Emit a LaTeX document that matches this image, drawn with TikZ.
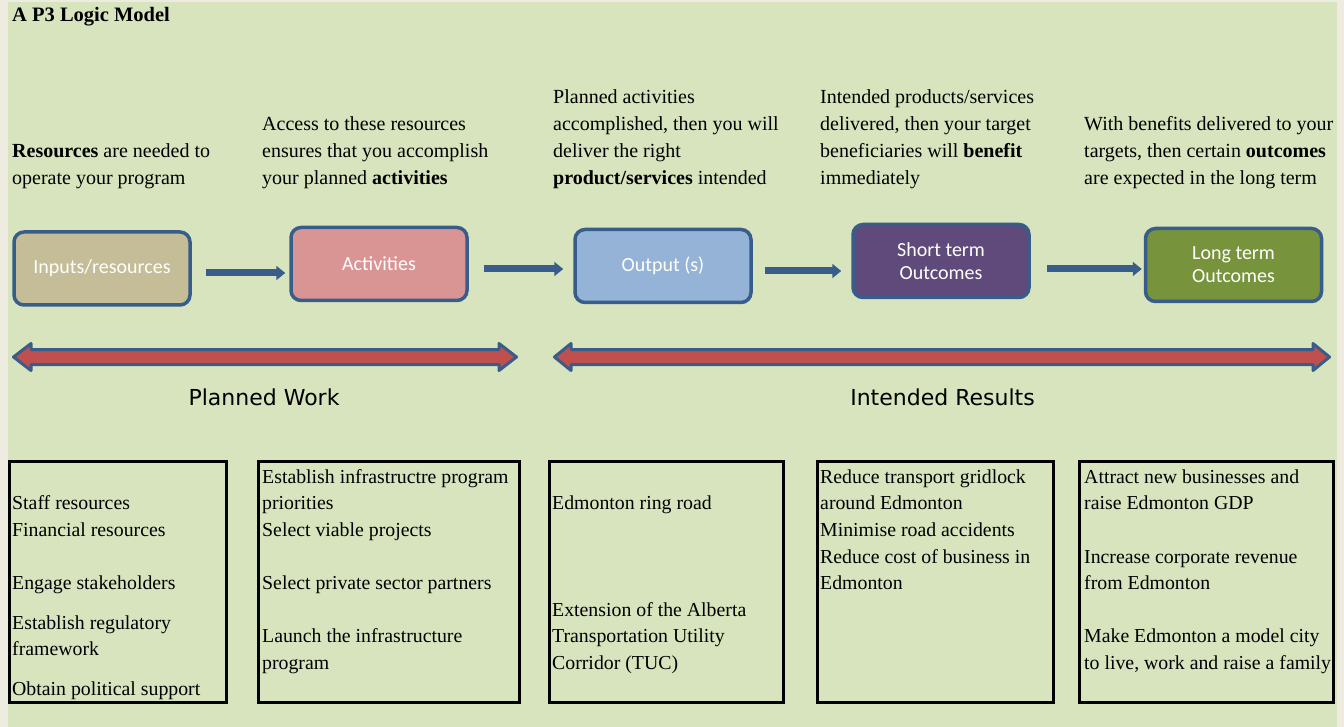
\documentclass[tikz,border=0pt]{standalone}
\usepackage{fontspec}
\setmainfont{Liberation Serif}
\newfontfamily\calib{Carlito}
\newfontfamily\dvs{DejaVu Sans}
\usetikzlibrary{arrows.meta}
\definecolor{bgg}{HTML}{D7E4BD}
\definecolor{marg}{HTML}{EEECE1}
\definecolor{bord}{HTML}{385D8A}
\definecolor{dred}{HTML}{C0504D}
\definecolor{cin}{HTML}{C4BD97}
\definecolor{cact}{HTML}{D99594}
\definecolor{cout}{HTML}{95B3D7}
\definecolor{cst}{HTML}{604A7B}
\definecolor{clt}{HTML}{77933C}
\newcommand\tline[5]{\node[#1,anchor=base west] (#2) at (#3,#4) {#5};}
\begin{document}
\begin{tikzpicture}[x=1pt,y=-1pt,
  rbox/.style={draw=bord,line width=3.5pt,rounded corners=10pt,minimum width=176pt,minimum height=73pt,
    text=white,align=center,font=\calib\fontsize{20}{23}\selectfont,inner sep=0pt},
  conn/.style={draw=bord,line width=7pt,-{Triangle[length=9pt,width=14pt]}},
  dbar/.style={draw=bord,fill=dred,line width=3pt,line join=round},
  blk/.style={draw=black,line width=3pt,inner sep=0pt},
  tt/.style={inner sep=0pt,font=\fontsize{20}{24}\selectfont},
  bt/.style={inner sep=0pt,font=\fontsize{19.8}{24}\selectfont},
  lab/.style={inner sep=0pt,anchor=base}]
\useasboundingbox (0,0) rectangle (1344,727);
\fill[marg] (0,0) rectangle (1344,727);
\fill[bgg] (8,2) rectangle (1337,727);

% title
\node[tt,anchor=base west,font=\bfseries\fontsize{20.5}{24}\selectfont] (title) at (12,22) {A P3 Logic Model};

% top texts
\tline{tt}{c1a}{12}{158}{\textbf{Resources} are needed to}
\tline{tt}{c1b}{12}{185}{operate your program}
\tline{tt}{c2a}{262}{131}{Access to these resources}
\tline{tt}{c2b}{262}{158}{ensures that you accomplish}
\tline{tt}{c2c}{262}{185}{your planned \textbf{activities}}
\tline{tt}{c3a}{553}{104}{Planned activities}
\tline{tt}{c3b}{553}{131}{accomplished, then you will}
\tline{tt}{c3c}{553}{158}{deliver the right}
\tline{tt}{c3d}{553}{185}{\textbf{product/services} intended}
\tline{tt}{c4a}{820}{104}{Intended products/services}
\tline{tt}{c4b}{820}{131}{delivered, then your target}
\tline{tt}{c4c}{820}{158}{beneficiaries will \textbf{benefit}}
\tline{tt}{c4d}{820}{185}{immediately}
\tline{tt}{c5a}{1084}{131}{With benefits delivered to your}
\tline{tt}{c5b}{1084}{158}{targets, then certain \textbf{outcomes}}
\tline{tt}{c5c}{1084}{185}{are expected in the long term}

% rounded boxes
\node[rbox,fill=cin] (in) at (102,268.5) {Inputs/resources};
\node[rbox,fill=cact] (act) at (379,264) {Activities};
\node[rbox,fill=cout] (out) at (663,266) {Output (s)};
\node[rbox,fill=cst] (st) at (941,261) {Short term\\Outcomes};
\node[rbox,fill=clt] (lt) at (1233.5,265) {Long term\\Outcomes};

% arrow rows
\coordinate (r1) at (0,273);
\coordinate (r2) at (0,269);
\coordinate (r3) at (0,271);
\coordinate (r4) at (0,269);
\draw[conn,shorten <=14pt,shorten >=4pt] (in.east |- r1) -- (act.west |- r1);
\draw[conn,shorten <=15pt,shorten >=10pt] (act.east |- r2) -- (out.west |- r2);
\draw[conn,shorten <=12pt,shorten >=10pt] (out.east |- r3) -- (st.west |- r3);
\draw[conn,shorten <=16pt,shorten >=2pt] (st.east |- r4) -- (lt.west |- r4);

% double arrows
\draw[dbar] (13.5,357) -- (31,343.5) -- (31,349.5) -- (499,349.5) -- (499,343.5) -- (516.5,357)
  -- (499,370.5) -- (499,364.5) -- (31,364.5) -- (31,370.5) -- cycle;
\draw[dbar] (554.5,357) -- (571,343.5) -- (571,349.5) -- (1313,349.5) -- (1313,343.5) -- (1329.5,357)
  -- (1313,370.5) -- (1313,364.5) -- (571,364.5) -- (571,370.5) -- cycle;
\node[lab,font=\dvs\fontsize{22}{26}\selectfont] (pw) at (264,405) {Planned Work};
\node[lab,font=\dvs\fontsize{22}{26}\selectfont] (ir) at (942.5,405) {Intended Results};

% bottom boxes
\node[blk,minimum width=217pt,minimum height=241pt] (b1) at (118,582) {};
\node[blk,minimum width=261pt,minimum height=241pt] (b2) at (389,582) {};
\node[blk,minimum width=234pt,minimum height=241pt] (b3) at (666.5,582) {};
\node[blk,minimum width=236pt,minimum height=241pt] (b4) at (935.5,582) {};
\node[blk,minimum width=254pt,minimum height=241pt] (b5) at (1206.5,582) {};

% bottom texts
\tline{bt}{d1a}{12}{509}{Staff resources}
\tline{bt}{d1b}{12}{536}{Financial resources}
\tline{bt}{d1c}{12}{589}{Engage stakeholders}
\tline{bt}{d1d}{12}{629}{Establish regulatory}
\tline{bt}{d1e}{12}{655}{framework}
\tline{bt}{d1f}{12}{695}{Obtain political support}

\tline{bt}{d2a}{262}{483}{Establish infrastructre program}
\tline{bt}{d2b}{262}{509}{priorities}
\tline{bt}{d2c}{262}{536}{Select viable projects}
\tline{bt}{d2d}{262}{589}{Select private sector partners}
\tline{bt}{d2e}{262}{642}{Launch the infrastructure}
\tline{bt}{d2f}{262}{669}{program}

\tline{bt}{d3a}{552}{509}{Edmonton ring road}
\tline{bt}{d3b}{552}{616}{Extension of the Alberta}
\tline{bt}{d3c}{552}{642}{Transportation Utility}
\tline{bt}{d3d}{552}{669}{Corridor (TUC)}

\tline{bt}{d4a}{820}{483}{Reduce transport gridlock}
\tline{bt}{d4b}{820}{509}{around Edmonton}
\tline{bt}{d4c}{820}{536}{Minimise road accidents}
\tline{bt}{d4d}{820}{563}{Reduce cost of business in}
\tline{bt}{d4e}{820}{589}{Edmonton}

\tline{bt}{d5a}{1084}{483}{Attract new businesses and}
\tline{bt}{d5b}{1084}{509}{raise Edmonton GDP}
\tline{bt}{d5c}{1084}{563}{Increase corporate revenue}
\tline{bt}{d5d}{1084}{589}{from Edmonton}
\tline{bt}{d5e}{1084}{642}{Make Edmonton a model city}
\tline{bt}{d5f}{1084}{669}{to live, work and raise a family}
\end{tikzpicture}
\end{document}
